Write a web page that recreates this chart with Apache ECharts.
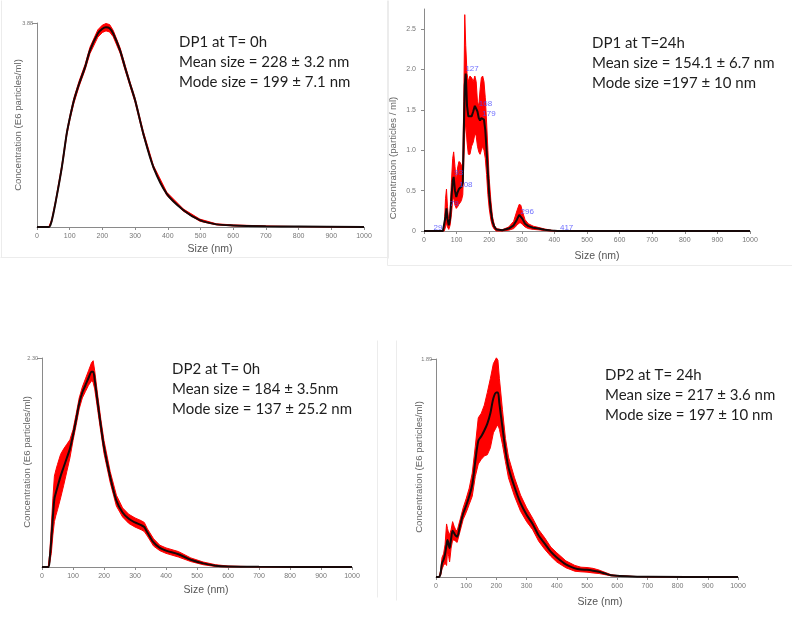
<!DOCTYPE html>
<html><head><meta charset="utf-8">
<script src="https://cdn.jsdelivr.net/npm/echarts@6/dist/echarts.min.js"></script>
<style>html,body{margin:0;padding:0;background:#fff}#c{width:792px;height:624px}</style>
</head><body><div id="c"></div>
<script>
// ---- DP1 at T=0h ----
const size1 = [0, 36, 45, 58, 76, 91, 101, 113, 129, 147, 162, 186, 200, 211, 222, 233, 254, 269, 284, 300, 325, 356, 397, 448, 498, 549, 600, 700, 800, 1000];
const mean1 = [0, 0, 0.12, 0.51, 1.14, 1.78, 2.09, 2.41, 2.73, 3.04, 3.36, 3.68, 3.77, 3.80, 3.78, 3.68, 3.36, 3.04, 2.73, 2.41, 1.78, 1.14, 0.63, 0.32, 0.13, 0.05, 0.03, 0.015, 0.008, 0];
const sd1 = [0, 0, 0.02, 0.03, 0.04, 0.04, 0.04, 0.05, 0.05, 0.05, 0.06, 0.07, 0.07, 0.07, 0.07, 0.06, 0.05, 0.05, 0.04, 0.04, 0.04, 0.03, 0.03, 0.02, 0.02, 0.01, 0.01, 0.005, 0, 0];

// ---- DP1 at T=24h ----
const size2 = [0, 58, 62, 66, 69, 72, 76, 80, 84, 88, 91, 95, 99, 103, 107, 111, 115, 119, 122, 125, 128, 132, 136, 141, 146, 151, 156, 160, 164, 168, 172, 176, 180, 184, 188, 192, 196, 200, 205, 210, 216, 222, 240, 260, 275, 285, 292, 297, 302, 310, 320, 335, 350, 370, 390, 410, 1000];
const mean2 = [0, 0, 0.02, 0.18, 0.28, 0.15, 0.07, 0.15, 0.4, 0.62, 0.67, 0.5, 0.42, 0.48, 0.52, 0.52, 0.55, 0.6, 1.2, 1.8, 1.95, 1.55, 1.42, 1.4, 1.42, 1.48, 1.55, 1.55, 1.48, 1.4, 1.37, 1.4, 1.42, 1.38, 1.25, 1.0, 0.72, 0.45, 0.25, 0.12, 0.05, 0.02, 0.01, 0.03, 0.07, 0.14, 0.2, 0.2, 0.15, 0.09, 0.06, 0.04, 0.03, 0.015, 0.005, 0, 0];
const upper2 = [0, 0, 0.04, 0.4, 0.52, 0.3, 0.12, 0.25, 0.6, 0.9, 0.98, 0.8, 0.62, 0.78, 0.86, 0.85, 0.8, 0.85, 1.6, 2.68, 2.3, 1.95, 1.85, 1.92, 1.9, 1.85, 1.92, 1.85, 1.6, 1.55, 1.75, 1.9, 1.92, 1.85, 1.65, 1.35, 1.0, 0.65, 0.38, 0.18, 0.07, 0.03, 0.015, 0.05, 0.12, 0.25, 0.33, 0.32, 0.24, 0.14, 0.09, 0.06, 0.045, 0.025, 0.01, 0, 0];
const lower2 = [0, 0, 0, 0.05, 0.1, 0.05, 0.02, 0.07, 0.2, 0.38, 0.42, 0.32, 0.28, 0.3, 0.33, 0.35, 0.38, 0.45, 0.85, 1.2, 1.35, 1.1, 0.95, 0.95, 1.05, 1.1, 1.2, 1.18, 1.05, 0.98, 0.95, 1.0, 1.05, 1.0, 0.9, 0.7, 0.45, 0.28, 0.14, 0.06, 0.02, 0, 0, 0.01, 0.03, 0.07, 0.1, 0.1, 0.08, 0.05, 0.03, 0.02, 0.015, 0.005, 0, 0, 0];
const peakSize2 = [29, 79, 93, 108, 127, 168, 179, 296, 417];
const peakConc2 = [0.04, 0.34, 0.72, 0.57, 2.01, 1.58, 1.45, 0.24, 0.04];

// ---- DP2 at T=0h ----
const size3 = [0, 20, 25, 30, 35, 40, 45, 50, 60, 70, 80, 90, 100, 110, 120, 130, 140, 150, 160, 165, 170, 180, 190, 200, 220, 240, 260, 280, 300, 320, 330, 340, 360, 380, 400, 440, 480, 520, 560, 600, 700, 1000];
const mean3 = [0, 0, 0.1, 0.3, 0.55, 0.75, 0.82, 0.88, 1.0, 1.1, 1.2, 1.3, 1.45, 1.62, 1.8, 1.92, 2.0, 2.08, 2.15, 2.15, 2.06, 1.8, 1.55, 1.32, 0.99, 0.73, 0.6, 0.53, 0.49, 0.46, 0.44, 0.38, 0.27, 0.21, 0.18, 0.14, 0.08, 0.04, 0.015, 0.006, 0.002, 0];
const sd3 = [0, 0, 0.05, 0.15, 0.2, 0.25, 0.25, 0.25, 0.24, 0.2, 0.15, 0.1, 0.06, 0.06, 0.06, 0.06, 0.07, 0.08, 0.1, 0.12, 0.1, 0.08, 0.07, 0.07, 0.06, 0.06, 0.05, 0.05, 0.05, 0.05, 0.05, 0.04, 0.04, 0.03, 0.03, 0.03, 0.02, 0.015, 0.01, 0.005, 0, 0];

// ---- DP2 at T=24h ----
const size4 = [0, 10, 15, 20, 25, 30, 35, 38, 42, 45, 50, 55, 60, 65, 70, 80, 90, 100, 110, 120, 130, 140, 150, 160, 170, 180, 190, 200, 205, 210, 220, 230, 240, 260, 280, 300, 320, 340, 360, 380, 400, 430, 460, 480, 500, 520, 540, 560, 580, 600, 650, 700, 1000];
const mean4 = [0, 0, 0.03, 0.12, 0.15, 0.2, 0.28, 0.32, 0.28, 0.25, 0.33, 0.4, 0.38, 0.36, 0.35, 0.45, 0.55, 0.62, 0.7, 0.8, 1.0, 1.18, 1.22, 1.27, 1.33, 1.42, 1.55, 1.6, 1.6, 1.5, 1.3, 1.1, 0.95, 0.78, 0.64, 0.54, 0.46, 0.36, 0.29, 0.22, 0.17, 0.11, 0.075, 0.065, 0.062, 0.055, 0.045, 0.03, 0.015, 0.01, 0.005, 0.002, 0];
const sd4 = [0, 0, 0.02, 0.05, 0.05, 0.08, 0.18, 0.1, 0.1, 0.12, 0.08, 0.08, 0.06, 0.05, 0.05, 0.05, 0.05, 0.06, 0.07, 0.1, 0.13, 0.2, 0.2, 0.22, 0.27, 0.3, 0.3, 0.3, 0.28, 0.22, 0.15, 0.1, 0.09, 0.08, 0.07, 0.06, 0.05, 0.05, 0.05, 0.04, 0.04, 0.03, 0.025, 0.02, 0.02, 0.02, 0.015, 0.01, 0.005, 0.003, 0, 0, 0];

const xTicks = [0, 100, 200, 300, 400, 500, 600, 700, 800, 900, 1000];
const yTopLabels = ['3.88', null, '2.30', '1.89'];
const titles = [
  ['DP1 at T= 0h', 'Mean size = 228 \u00b1 3.2 nm', 'Mode size = 199 \u00b1 7.1 nm'],
  ['DP1 at T=24h', 'Mean size = 154.1 \u00b1 6.7 nm', 'Mode size =197 \u00b1 10 nm'],
  ['DP2 at T= 0h', 'Mean size = 184 \u00b1 3.5nm', 'Mode size = 137 \u00b1 25.2 nm'],
  ['DP2 at T= 24h', 'Mean size = 217 \u00b1 3.6 nm', 'Mode size = 197 \u00b1 10 nm']
];
const yNames = ['Concentration (E6 particles/ml)', 'Concentration (particles / ml)', 'Concentration (E6 particles/ml)', 'Concentration (E6 particles/ml)'];
const xName = 'Size (nm)';

const lo = (m, s) => m.map((v, i) => Math.max(0, v - s[i]));
const hi = (m, s) => m.map((v, i) => v + s[i]);

const panels = [
  {size: size1, mean: mean1, lower: lo(mean1, sd1), upper: hi(mean1, sd1), yMax: 3.88, smooth: 0.3,
   grid: {left: 37, top: 23, width: 327, height: 204}, text: [179, 32], yName: [18, 125], xName: [210, 249]},
  {size: size2, mean: mean2, lower: lower2, upper: upper2, yMax: 2.75, smooth: 0,
   grid: {left: 424, top: 9, width: 326, height: 222}, text: [592, 33], yName: [393, 158], xName: [597, 256]},
  {size: size3, mean: mean3, lower: lo(mean3, sd3), upper: hi(mean3, sd3), yMax: 2.30, smooth: 0.3,
   grid: {left: 42, top: 358, width: 310, height: 209}, text: [172, 359], yName: [27, 462], xName: [206, 590]},
  {size: size4, mean: mean4, lower: lo(mean4, sd4), upper: hi(mean4, sd4), yMax: 1.89, smooth: 0.3,
   grid: {left: 436, top: 359, width: 302, height: 218}, text: [605, 365], yName: [419, 467], xName: [600, 602]}
];

const grid = [], xAxis = [], yAxis = [], series = [], graphic = [];
const axisCol = '#8a8a8a';
const tickFont = 'Liberation Sans';

panels.forEach((p, k) => {
  grid.push(p.grid);
  xAxis.push({
    type: 'value', gridIndex: k, min: 0, max: 1000, interval: 100,
    axisLine: {show: true, lineStyle: {color: axisCol, width: 1}},
    axisTick: {show: true, length: 3, lineStyle: {color: axisCol}},
    axisLabel: {fontSize: 7, color: '#777', margin: 6, fontFamily: tickFont,
      formatter: v => xTicks.indexOf(v) >= 0 ? String(v) : ''},
    splitLine: {show: false}
  });
  if (k === 1) {
    yAxis.push({
      type: 'value', gridIndex: k, min: 0, max: p.yMax, interval: 0.5,
      axisLine: {show: true, lineStyle: {color: axisCol}},
      axisTick: {show: true, length: 3, lineStyle: {color: axisCol}},
      axisLabel: {fontSize: 7, color: '#777', margin: 8, fontFamily: tickFont, showMaxLabel: false,
        formatter: v => v === 0 ? '0' : v.toFixed(1)},
      splitLine: {show: false}
    });
  } else {
    yAxis.push({
      type: 'value', gridIndex: k, min: 0, max: p.yMax, interval: p.yMax,
      axisLine: {show: true, lineStyle: {color: axisCol}},
      axisTick: {show: true, length: 5, lineStyle: {color: axisCol}},
      axisLabel: {fontSize: 5.5, color: '#777', margin: 4, fontFamily: tickFont, showMinLabel: false,
        formatter: v => v === 0 ? '' : yTopLabels[k]},
      splitLine: {show: false}
    });
  }
  // error band (mean ± sd) drawn as one polygon through the axis scales
  series.push({
    type: 'custom', xAxisIndex: k, yAxisIndex: k, silent: true, z: 3,
    data: p.size.map((x, i) => [x, p.lower[i], p.upper[i]]),
    encode: {x: 0, y: [1, 2]},
    renderItem: (params, api) => {
      if (params.dataIndex !== 0) return null;
      const top = p.size.map((x, i) => api.coord([x, p.upper[i]]));
      const bot = p.size.map((x, i) => api.coord([x, p.lower[i]])).reverse();
      return {
        type: 'group', children: [
          {type: 'polygon', shape: {points: top.concat(bot)},
           style: {fill: '#ff0000', stroke: '#ff0000', lineWidth: 1}}
        ]
      };
    }
  });
  series.push({
    type: 'line', xAxisIndex: k, yAxisIndex: k, data: p.size.map((x, i) => [x, p.mean[i]]),
    symbol: 'none', smooth: p.smooth, lineStyle: {width: 2, color: '#160808'}, z: 4
  });

  graphic.push({
    type: 'text', left: p.text[0], top: p.text[1], z: 100,
    style: {text: titles[k].join('\n'), font: '15px Lato', fill: '#1e1e1e', lineHeight: 20}
  });
  graphic.push({
    type: 'text', x: p.yName[0], y: p.yName[1], rotation: Math.PI / 2, z: 100,
    style: {text: yNames[k], fontSize: 9.6, fontFamily: tickFont, fill: '#666', align: 'center', verticalAlign: 'middle'}
  });
  graphic.push({
    type: 'text', x: p.xName[0], y: p.xName[1], z: 100,
    style: {text: xName, fontSize: 10.5, fontFamily: tickFont, fill: '#555', align: 'center', verticalAlign: 'middle'}
  });
});

// peak labels on DP1 24h
series.push({
  type: 'scatter', xAxisIndex: 1, yAxisIndex: 1, symbolSize: 0, z: 6,
  data: peakSize2.map((x, i) => [x, peakConc2[i]]),
  label: {show: true, position: 'right', distance: 0, fontSize: 8, color: '#4b4bff', fontFamily: tickFont,
    formatter: prm => String(prm.value[0])}
});

// faint panel frames
const frameLines = [
  [[388, 0], [388, 258]], [[0, 257], [388, 257]], [[1, 0], [1, 257]],
  [[387, 0], [387, 265]], [[387, 265], [792, 265]],
  [[377, 340], [377, 597]],
  [[396, 340], [396, 600]]
];
frameLines.forEach(l => graphic.push({
  type: 'line', silent: true, z: -1,
  shape: {x1: l[0][0] + 0.5, y1: l[0][1] + 0.5, x2: l[1][0] + 0.5, y2: l[1][1] + 0.5},
  style: {stroke: '#ececec', lineWidth: 1}
}));

const chart = echarts.init(document.getElementById('c'));
chart.setOption({
  animation: false,
  backgroundColor: '#ffffff',
  grid, xAxis, yAxis, series, graphic
});
</script>
</body></html>
